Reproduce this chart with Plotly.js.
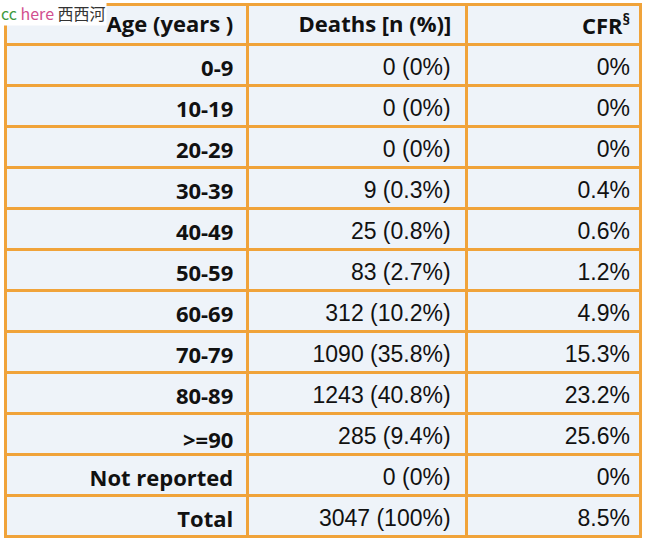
<!DOCTYPE html>
<html><head><meta charset="utf-8">
<script src="https://cdn.plot.ly/plotly-3.0.1.min.js"></script>
<style>html,body{margin:0;background:#fff;overflow:hidden}#c{width:646px;height:560px}</style>
</head><body><div id="c"></div>
<script>
const headers = ["Age (years )", "Deaths [n (%)]", "CFR<sup>§</sup>"];
const ageGroups = ["0-9","10-19","20-29","30-39","40-49","50-59","60-69","70-79","80-89",">=90","Not reported","Total"];
const deaths = [0,0,0,9,25,83,312,1090,1243,285,0,3047];
const deathPct = ["0%","0%","0%","0.3%","0.8%","2.7%","10.2%","35.8%","40.8%","9.4%","0%","100%"];
const cfr = ["0%","0%","0%","0.4%","0.6%","1.2%","4.9%","15.3%","23.2%","25.6%","0%","8.5%"];

const NB = "\u00a0";
const nb = s => s.split(" ").join(NB);
const col1 = ageGroups.map(a => nb(a) + NB);
const col2 = deaths.map((d,i) => nb(d + " (" + deathPct[i] + ")") + NB);
const col3 = cfr.slice();
const headerText = headers.map(h => nb(h) + NB);
headerText[2] = headers[2];

const orange = "#f0a33a";
const fill = "#eef3f9";
const H = 560, PW = 635;
const TOP = 4, HDR = 40, ROW = 41;
const widths = [242, 219, 174];
const colLeft = [0, 242, 461];
const hasMarkup = s => /[<>&]/.test(s);

// background grid (fill + borders)
const grid = {
  type: "table",
  columnwidth: widths,
  domain: {x:[0,1], y:[0, 1 - TOP/H]},
  header: {values: headers.map(() => ""), height: HDR, fill: {color: fill}, line: {color: orange, width: 3}},
  cells: {values: [col1, col2, col3].map(c => c.map(() => "")), height: ROW, fill: {color: fill}, line: {color: orange, width: 3}}
};

// text layers: [column index, header text, cell values, header shift, row shift, right nudge, font, size, weight]
const layers = [
  [0, headerText[0], col1.map(v => hasMarkup(v) ? "" : v), 3, 7, 0, "Open Sans, sans-serif", 22, "bold"],
  [0, "", col1.map(v => hasMarkup(v) ? v : ""), 3, 3, 0, "Open Sans, sans-serif", 22, "bold"],
  [1, headerText[1], col2, 3, 6, 0, "Liberation Sans, Arial, sans-serif", 23, "normal"],
  [2, headerText[2], col3, -3.5, 6, 2, "Liberation Sans, Arial, sans-serif", 23, "normal"]
];

const traces = [grid];
layers.forEach(([k, htxt, vals, hs, rs, nudge, fam, size, weight]) => {
  const x0 = colLeft[k], x1 = colLeft[k] + widths[k];
  traces.push({
    type: "table",
    domain: {x: [x0/PW, (x1 - nudge)/PW], y: [0, 1 - (TOP + hs)/H]},
    header: {
      values: [htxt],
      align: "right",
      height: HDR + rs - hs,
      fill: {color: "rgba(0,0,0,0)"},
      line: {color: "rgba(0,0,0,0)", width: 0},
      font: {family: "Open Sans, sans-serif", size: 22, weight: "bold", color: "#111"}
    },
    cells: {
      values: [vals],
      align: "right",
      height: ROW,
      fill: {color: "rgba(0,0,0,0)"},
      line: {color: "rgba(0,0,0,0)", width: 0},
      font: {family: fam, size: size, weight: weight, color: "#111"}
    }
  });
});

const layout = {
  width: 646, height: H,
  margin: {l: 5, r: 6, t: 0, b: 0},
  paper_bgcolor: "#fff",
  showlegend: false,
  annotations: [{
    xref: "paper", yref: "paper", x: -0.008, y: 1, xanchor: "left", yanchor: "top",
    text: '<span style="color:#3f9a3f">cc</span> <span style="color:#d2508f">here</span> <span style="color:#333">西西河</span>',
    showarrow: false, bgcolor: "#fff", font: {family: "Noto Sans CJK SC, Noto Sans, sans-serif", size: 16},
    borderpad: 0
  }]
};
Plotly.newPlot("c", traces, layout, {displayModeBar: false, staticPlot: true});
</script></body></html>
